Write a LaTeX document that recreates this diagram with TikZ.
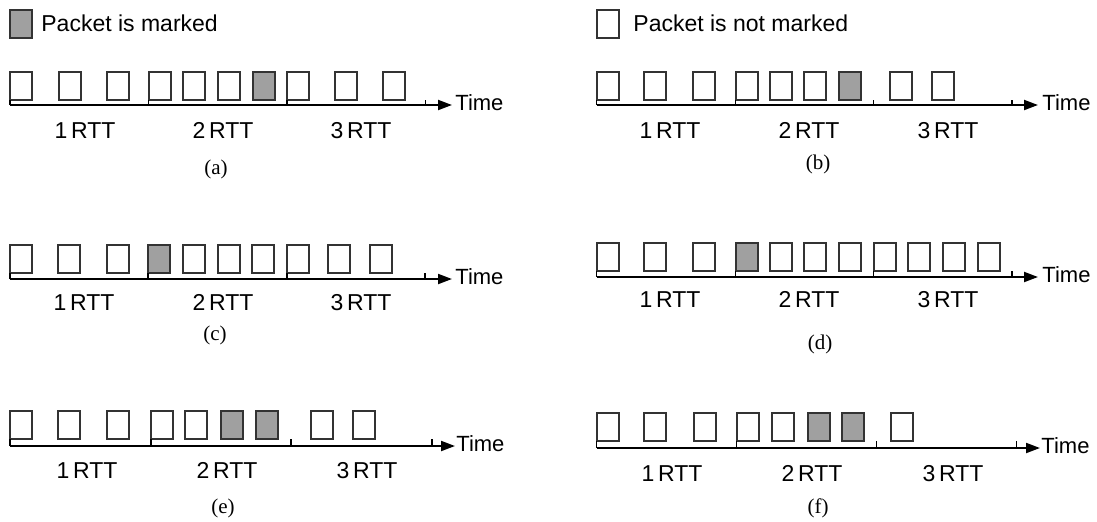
\documentclass[tikz,border=0pt]{standalone}
\usepackage{fontspec}
\setmainfont{Liberation Serif}
\setsansfont{Liberation Sans}
\usetikzlibrary{arrows.meta}
\definecolor{edgegray}{HTML}{333333}
\definecolor{markgray}{HTML}{A0A0A0}
\begin{document}
\begin{tikzpicture}[x=0.5pt,y=-0.5pt,
  pkt/.style={draw=edgegray,line width=1pt,fill=white,minimum width=11pt,minimum height=14pt,inner sep=0pt,outer sep=0pt,anchor=north west},
  mpkt/.style={pkt,fill=markgray},
  timeaxis/.style={draw=black,line width=1pt,-{Triangle[length=7pt,width=5pt]}},
  rtttick/.style={draw=black,line width=0.8pt},
  rttlbl/.style={font=\sffamily\fontsize{11.5}{13}\selectfont,inner sep=0pt,anchor=base},
  timelbl/.style={font=\sffamily\fontsize{11}{13}\selectfont,inner sep=0pt,anchor=base west},
  caplbl/.style={font=\fontsize{10.5}{12}\selectfont,inner sep=0pt},
  legendlbl/.style={font=\sffamily\fontsize{11.5}{14}\selectfont,inner sep=0pt,anchor=west}]
\path[use as bounding box,fill=white] (0,0) rectangle (1097,521);

% legend
\node[mpkt] (legm) at (10,10) {};
\node[legendlbl] (legm-t) at (41,23.5) {Packet is marked};
\node[pkt] (legn) at (597,10) {};
\node[legendlbl] (legn-t) at (633,23.5) {Packet is not marked};

% (a)
\foreach \x/\s [count=\i] in {10/pkt,58.5/pkt,107/pkt,148.5/pkt,183/pkt,218/pkt,253/mpkt,287/pkt,335/pkt,383/pkt}
  \node[\s] (a\i) at (\x,72) {};
\foreach \t in {10,148.5,287,425.5} \draw[rtttick] (\t,105) -- (\t,99.5);
\coordinate (a-o) at (10,105); \coordinate (a-e) at (452,105);
\draw[timeaxis] (a-o) -- (a-e);
\node[timelbl] (a-time) at (455,110) {Time};
\node[rttlbl] (a-r1) at (85,138) {1\,RTT};
\node[rttlbl] (a-r2) at (223,138) {2\,RTT};
\node[rttlbl] (a-r3) at (361,138) {3\,RTT};
\node[caplbl] (a-cap) at (216,169) {(a)};

% (b)
\foreach \x/\s [count=\i] in {596.5/pkt,644/pkt,693/pkt,735.5/pkt,770/pkt,804/pkt,839/mpkt,890/pkt,932/pkt}
  \node[\s] (b\i) at (\x,72) {};
\foreach \t in {596.5,735.5,873.5,1012} \draw[rtttick] (\t,105) -- (\t,99.5);
\coordinate (b-o) at (596.5,105); \coordinate (b-e) at (1038,105);
\draw[timeaxis] (b-o) -- (b-e);
\node[timelbl] (b-time) at (1042,110) {Time};
\node[rttlbl] (b-r1) at (670,138) {1\,RTT};
\node[rttlbl] (b-r2) at (809,138) {2\,RTT};
\node[rttlbl] (b-r3) at (948,138) {3\,RTT};
\node[caplbl] (b-cap) at (818,164) {(b)};

% (c)
\foreach \x/\s [count=\i] in {10/pkt,58/pkt,107/pkt,148/mpkt,183/pkt,218/pkt,252/pkt,287/pkt,328/pkt,370/pkt}
  \node[\s] (c\i) at (\x,245) {};
\foreach \t in {10,148,287,425} \draw[rtttick] (\t,279) -- (\t,272.5);
\coordinate (c-o) at (10,279); \coordinate (c-e) at (452,279);
\draw[timeaxis] (c-o) -- (c-e);
\node[timelbl] (c-time) at (455,284) {Time};
\node[rttlbl] (c-r1) at (84,310) {1\,RTT};
\node[rttlbl] (c-r2) at (223,310) {2\,RTT};
\node[rttlbl] (c-r3) at (361,310) {3\,RTT};
\node[caplbl] (c-cap) at (215,335) {(c)};

% (d)
\foreach \x/\s [count=\i] in {596.5/pkt,644/pkt,693/pkt,735.5/mpkt,770/pkt,804/pkt,839/pkt,873.5/pkt,908/pkt,943/pkt,978/pkt}
  \node[\s] (d\i) at (\x,243) {};
\foreach \t in {596.5,735.5,873.5,1012} \draw[rtttick] (\t,277) -- (\t,270.5);
\coordinate (d-o) at (596.5,277); \coordinate (d-e) at (1038,277);
\draw[timeaxis] (d-o) -- (d-e);
\node[timelbl] (d-time) at (1042,282) {Time};
\node[rttlbl] (d-r1) at (670,307) {1\,RTT};
\node[rttlbl] (d-r2) at (809,307) {2\,RTT};
\node[rttlbl] (d-r3) at (948,307) {3\,RTT};
\node[caplbl] (d-cap) at (820,344) {(d)};

% (e)
\foreach \x/\s [count=\i] in {10/pkt,58/pkt,107/pkt,151/pkt,185/pkt,221/mpkt,256/mpkt,311/pkt,353/pkt}
  \node[\s] (e\i) at (\x,411) {};
\foreach \t in {10,151,291,432} \draw[rtttick] (\t,446) -- (\t,438.5);
\coordinate (e-o) at (10,446); \coordinate (e-e) at (455,446);
\draw[timeaxis] (e-o) -- (e-e);
\node[timelbl] (e-time) at (456,451) {Time};
\node[rttlbl] (e-r1) at (87,478) {1\,RTT};
\node[rttlbl] (e-r2) at (227,478) {2\,RTT};
\node[rttlbl] (e-r3) at (367,478) {3\,RTT};
\node[caplbl] (e-cap) at (223,508) {(e)};

% (f)
\foreach \x/\s [count=\i] in {596.5/pkt,644/pkt,694/pkt,736.5/pkt,772/pkt,808/mpkt,842/mpkt,891/pkt}
  \node[\s] (f\i) at (\x,413) {};
\foreach \t in {596.5,736.5,876.5,1016.5} \draw[rtttick] (\t,448) -- (\t,440.5);
\coordinate (f-o) at (596.5,448); \coordinate (f-e) at (1040,448);
\draw[timeaxis] (f-o) -- (f-e);
\node[timelbl] (f-time) at (1041,453) {Time};
\node[rttlbl] (f-r1) at (672,481) {1\,RTT};
\node[rttlbl] (f-r2) at (812,481) {2\,RTT};
\node[rttlbl] (f-r3) at (953,481) {3\,RTT};
\node[caplbl] (f-cap) at (818,508) {(f)};
\end{tikzpicture}
\end{document}
